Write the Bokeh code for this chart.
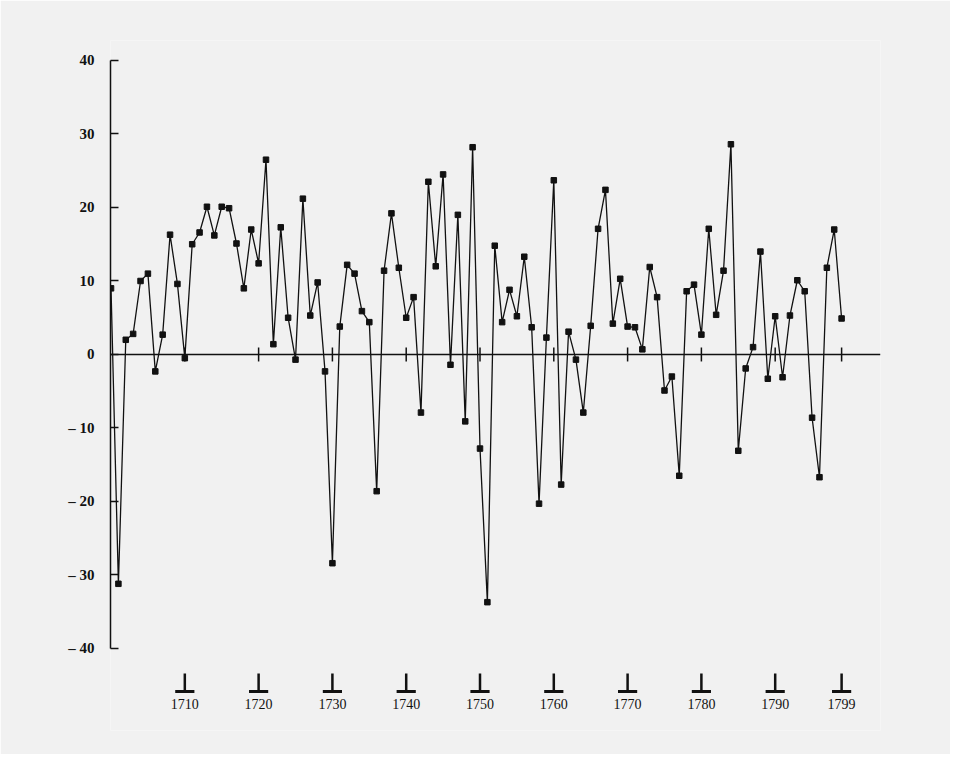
from bokeh.plotting import figure
from bokeh.models import Range1d, FixedTicker, Span
from bokeh.core.properties import value
from bokeh.embed import file_html
from bokeh.resources import INLINE

years = list(range(1700, 1800))
values = [
    9.0, -31.2, 2.0, 2.8, 10.0, 11.0, -2.3, 2.7, 16.3, 9.6,
    -0.5, 15.0, 16.6, 20.1, 16.2, 20.1, 19.9, 15.1, 9.0, 17.0,
    12.4, 26.5, 1.4, 17.3, 5.0, -0.7, 21.2, 5.3, 9.8, -2.3,
    -28.4, 3.8, 12.2, 11.0, 5.9, 4.4, -18.6, 11.4, 19.2, 11.8,
    5.0, 7.8, -7.9, 23.5, 12.0, 24.5, -1.4, 19.0, -9.1, 28.2,
    -12.8, -33.7, 14.8, 4.4, 8.8, 5.2, 13.3, 3.7, -20.3, 2.3,
    23.7, -17.7, 3.1, -0.7, -7.9, 3.9, 17.1, 22.4, 4.2, 10.3,
    3.8, 3.7, 0.7, 11.9, 7.8, -4.9, -3.0, -16.5, 8.6, 9.5,
    2.7, 17.1, 5.4, 11.4, 28.6, -13.1, -1.9, 1.0, 14.0, -3.3,
    5.2, -3.1, 5.3, 10.1, 8.6, -8.6, -16.7, 11.8, 17.0, 4.9,
]
tick_years = [1710, 1720, 1730, 1740, 1750, 1760, 1770, 1780, 1790, 1799]
tick_labels = [str(y) for y in tick_years]
y_ticks = [-40, -30, -20, -10, 0, 10, 20, 30, 40]

BG = "#f1f1f1"
INK = "#111111"

W, H = 950, 754
p = figure(
    width=W, height=H,
    x_range=Range1d(1699.93, 1804.27),
    y_range=Range1d(-51.16, 42.72),
    output_backend="svg", toolbar_location=None,
    x_axis_location=None, y_axis_location="left",
    min_border_left=110, min_border_right=W - 880,
    min_border_top=40, min_border_bottom=H - 730,
    background_fill_color=BG, border_fill_color=BG,
)
p.outline_line_color = None
p.grid.visible = False

ax = p.yaxis[0]
ax.bounds = (-40, 40)
ax.ticker = FixedTicker(ticks=y_ticks)
ax.major_label_overrides = {t: (str(t) if t >= 0 else "\u2013 " + str(-t)) for t in y_ticks}
ax.major_tick_in = 8
ax.major_tick_out = 0
ax.minor_tick_line_color = None
ax.axis_line_color = INK
ax.axis_line_width = 1.5
ax.major_tick_line_color = INK
ax.major_tick_line_width = 1.5
ax.major_label_standoff = 16
ax.major_label_text_font = "Liberation Serif"
ax.major_label_text_font_style = "bold"
ax.major_label_text_font_size = "15px"
ax.major_label_text_color = INK

# zero line
p.add_layout(Span(location=0, dimension="width", line_color=INK, line_width=1.5))

# decade ticks on the zero line
p.segment(x0=tick_years, x1=tick_years, y0=[-0.95] * len(tick_years), y1=[0.95] * len(tick_years),
          line_color=INK, line_width=1.5)

# series
p.line(years, values, line_color=INK, line_width=1.3)
p.scatter(years, values, size=5.5, marker="square", fill_color=INK, line_color=INK)

# inverted-T year markers and labels below the chart
p.segment(x0=tick_years, x1=tick_years, y0=[-43.4] * len(tick_years), y1=[-45.85] * len(tick_years),
          line_color=INK, line_width=2.5)
p.segment(x0=[t - 1.3 for t in tick_years], x1=[t + 1.3 for t in tick_years],
          y0=[-45.85] * len(tick_years), y1=[-45.85] * len(tick_years),
          line_color=INK, line_width=3)
p.text(x=tick_years, y=[-47.6] * len(tick_years), text=tick_labels,
       text_font=value("Liberation Serif"), text_font_size="14px",
       text_align="center", text_baseline="middle", text_color=INK)

open("out.html", "w").write(file_html(p, INLINE))
